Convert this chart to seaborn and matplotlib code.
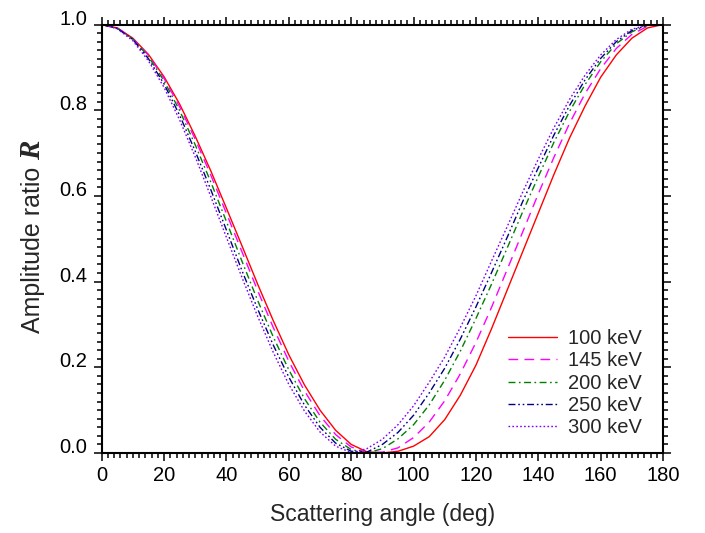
"""
Amplitude ratio R against scattering angle for five photon energies
"""
import matplotlib
matplotlib.use("Agg")
import matplotlib.pyplot as plt
from matplotlib.ticker import MultipleLocator, FormatStrFormatter
import pandas as pd
import seaborn as sns

# values, every 5 deg
angle = list(range(0, 181, 5))
r_100 = [1, .992, .968, .930, .878, .814, .739, .658, .571, .483, .394, .309, .229,
         .159, .100, .053, .020, .003, .000, .004, .016, .038, .078, .135, .205, .290,
         .380, .470, .560, .650, .735, .810, .877, .929, .968, .992, 1]
r_145 = [1, .992, .967, .928, .874, .808, .732, .648, .559, .469, .379, .293, .214,
         .145, .087, .043, .014, .001, .002, .012, .036, .072, .122, .185, .258, .340,
         .428, .516, .605, .690, .769, .839, .897, .944, .977, .996, 1]
r_200 = [1, .991, .966, .925, .868, .799, .719, .632, .540, .447, .356, .271, .194,
         .127, .072, .032, .008, .000, .010, .033, .066, .112, .170, .238, .314, .394,
         .478, .563, .645, .725, .797, .860, .913, .955, .983, .998, 1]
r_250 = [1, .991, .965, .920, .861, .788, .704, .614, .520, .425, .336, .252, .177,
         .112, .060, .023, .004, .002, .020, .048, .088, .140, .198, .266, .341, .421,
         .503, .587, .666, .742, .811, .871, .921, .960, .986, .999, 1]
r_300 = [1, .990, .962, .915, .853, .777, .691, .598, .503, .409, .319, .235, .160,
         .098, .049, .016, .001, .010, .032, .066, .110, .165, .224, .293, .367, .448,
         .528, .609, .686, .759, .825, .882, .929, .965, .989, .999, 1]

energies = ["100 keV", "145 keV", "200 keV", "250 keV", "300 keV"]
series = [r_100, r_145, r_200, r_250, r_300]

colors = {"100 keV": "#FF0000", "145 keV": "#FF00FF", "200 keV": "#008000",
          "250 keV": "#000080", "300 keV": "#8000FF"}
dashes = {"100 keV": "", "145 keV": (7, 4.5), "200 keV": (5, 2.5, 1.2, 2.5),
          "250 keV": (5, 2, 1.2, 2, 1.2, 2), "300 keV": (1.2, 1.6)}

df = pd.DataFrame({
    "angle": angle * len(energies),
    "R": [v for s in series for v in s],
    "energy": [e for e in energies for _ in angle],
})

sns.set_style("ticks")
plt.rcParams["font.family"] = ["Liberation Sans", "DejaVu Sans"]

fig = plt.figure(figsize=(7.05, 5.33), dpi=100)
ax = fig.add_axes([0.1443, 0.1501, 0.7962, 0.8039])

sns.lineplot(data=df, x="angle", y="R", hue="energy", style="energy",
             hue_order=energies, style_order=energies, palette=colors,
             dashes=dashes, linewidth=1.0, ax=ax)

ax.set_xlim(0, 180)
ax.set_ylim(0, 1)
ax.xaxis.set_major_locator(MultipleLocator(20))
ax.xaxis.set_minor_locator(MultipleLocator(2))
ax.yaxis.set_major_locator(MultipleLocator(0.2))
ax.yaxis.set_minor_locator(MultipleLocator(0.02))
ax.yaxis.set_major_formatter(FormatStrFormatter("%.1f"))

for side in ["top", "right", "bottom", "left"]:
    ax.spines[side].set_visible(True)
    ax.spines[side].set_linewidth(1.5)
    ax.spines[side].set_color("black")
ax.tick_params(which="both", direction="out", top=True, right=True,
               colors="black", width=1.1, labelsize=14.5)
ax.tick_params(which="major", length=5.8)
ax.tick_params(which="minor", length=3.5)
ax.tick_params(axis="x", pad=3.5)
ax.tick_params(axis="y", pad=4.5)
plt.setp(ax.get_yticklabels(), va="baseline")

ax.set_xlabel("")
ax.set_ylabel("")
ax.text(0.5, -0.159, "Scattering angle (deg)", transform=ax.transAxes,
        ha="center", va="baseline", fontsize=16.5)

# y label: sans text followed by a serif bold italic R
ylab = ax.text(-0.110, 0.28, "Amplitude ratio", transform=ax.transAxes,
               rotation=90, rotation_mode="anchor", ha="left", va="baseline",
               fontsize=18)
fig.canvas.draw()
bb = ylab.get_window_extent()
x_base = ax.transAxes.transform((-0.110, 0))[0]
fig.text(x_base / fig.bbox.width, (bb.y1 + 7) / fig.bbox.height, "R",
         rotation=90, rotation_mode="anchor", ha="left", va="baseline",
         fontsize=21, family="Liberation Serif", style="italic", weight="bold")

ax.legend(frameon=False, fontsize=14.5, loc="lower right",
          bbox_to_anchor=(0.963, 0.037), borderaxespad=0, borderpad=0,
          handlelength=2.4, handletextpad=0.58, labelspacing=0.16)

plt.savefig("out.png", dpi=100)
